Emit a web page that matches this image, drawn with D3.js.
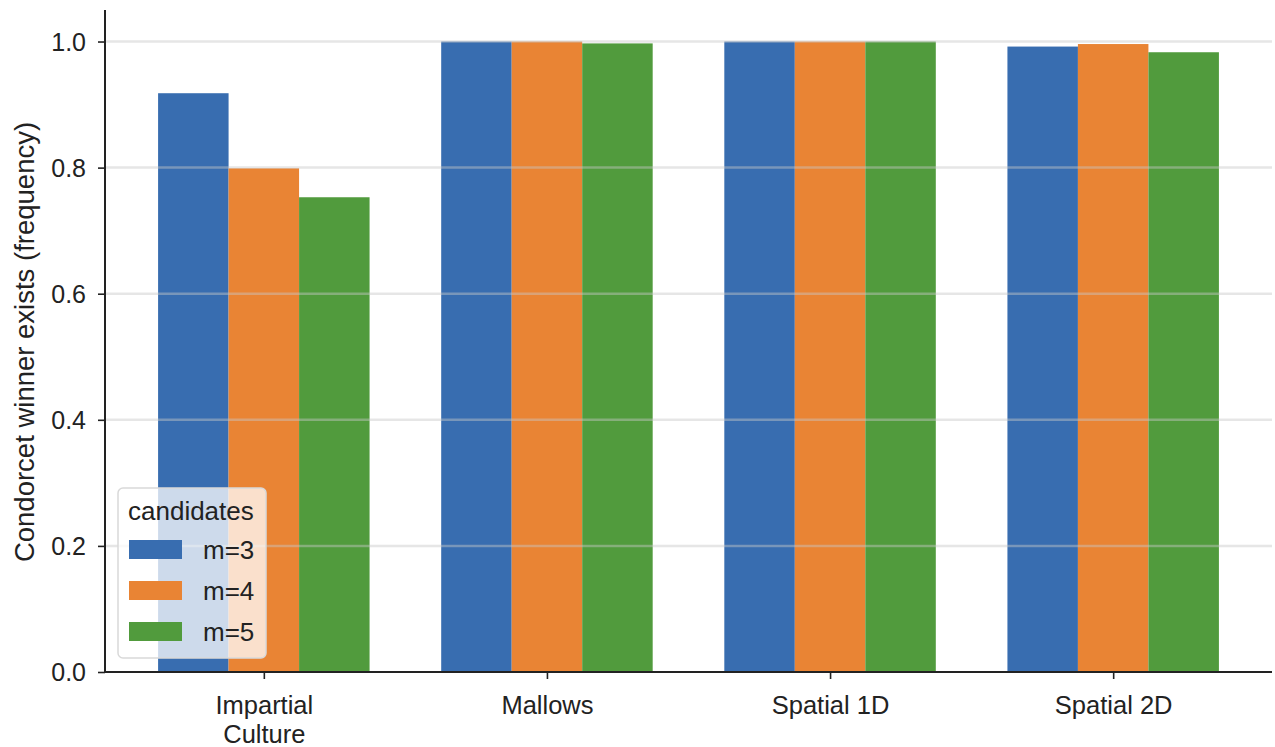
<!DOCTYPE html>
<html>
<head>
<meta charset="utf-8">
<script src="https://cdn.jsdelivr.net/npm/d3@7"></script>
<style>
  html, body { margin: 0; padding: 0; background: #fff; }
  svg { display: block; }
  text { font-family: "Liberation Sans", Arial, sans-serif; fill: #222; }
</style>
</head>
<body>
<svg id="chart" width="1275" height="747"></svg>
<script>
// Preference models on the x axis
const categories = ["Impartial Culture", "Mallows", "Spatial 1D", "Spatial 2D"];
const categoryLines = [["Impartial", "Culture"], ["Mallows"], ["Spatial 1D"], ["Spatial 2D"]];

// Number of candidates (hue)
const series = ["m=3", "m=4", "m=5"];
const seriesColors = ["#386db0", "#e98434", "#519b3d"];

// Frequency with which a Condorcet winner exists, per series
const m3 = [0.918, 1.000, 1.000, 0.992];
const m4 = [0.799, 1.000, 1.000, 0.996];
const m5 = [0.753, 0.997, 1.000, 0.983];
const seriesValues = [m3, m4, m5];

const yTicks = [0.0, 0.2, 0.4, 0.6, 0.8, 1.0];

const svg = d3.select("#chart");
const plotLeft = 105, plotRight = 1272, plotTop = 10, plotBottom = 672;

const y = d3.scaleLinear().domain([0, 1.05]).range([plotBottom, plotTop]);
const x = d3.scalePoint().domain(categories).range([plotLeft, plotRight]).padding(0.561);
const groupWidth = x.step() * 0.747;
const xHue = d3.scaleBand().domain(series).range([-groupWidth / 2, groupWidth / 2]);

// Bars
const rows = [];
categories.forEach((c, i) => {
  series.forEach((s, j) => rows.push({ cat: c, s, v: seriesValues[j][i], color: seriesColors[j] }));
});
svg.append("g").selectAll("rect").data(rows).join("rect")
  .attr("x", d => x(d.cat) + xHue(d.s))
  .attr("width", xHue.bandwidth())
  .attr("y", d => y(d.v))
  .attr("height", d => y(0) - y(d.v))
  .attr("fill", d => d.color);

// Horizontal grid, drawn over the bars
svg.append("g").selectAll("line").data(yTicks.filter(t => t > 0)).join("line")
  .attr("x1", plotLeft).attr("x2", plotRight)
  .attr("y1", d => y(d)).attr("y2", d => y(d))
  .attr("stroke", "#c8c8c8").attr("stroke-opacity", 0.45).attr("stroke-width", 2.5);

// Y axis
const yAxis = svg.append("g").attr("transform", `translate(${plotLeft},0)`)
  .call(d3.axisLeft(y).tickValues(yTicks).tickFormat(d3.format(".1f")).tickSize(7).tickPadding(12));
yAxis.select(".domain").attr("stroke", "#222").attr("stroke-width", 2)
  .attr("d", `M0,${plotTop}V${plotBottom}`);
yAxis.selectAll(".tick line").attr("stroke", "#222").attr("stroke-width", 1.6);
yAxis.selectAll(".tick text").style("font-size", "25px").attr("fill", "#222").attr("dy", "0.35em");

// X axis
const xAxis = svg.append("g").attr("transform", `translate(0,${plotBottom})`)
  .call(d3.axisBottom(x).tickSize(7).tickFormat(""));
xAxis.select(".domain").attr("stroke", "#222").attr("stroke-width", 2)
  .attr("d", `M${plotLeft},0H${plotRight}`);
xAxis.selectAll(".tick line").attr("stroke", "#222").attr("stroke-width", 1.6);
xAxis.selectAll(".tick").each(function (d, i) {
  const t = d3.select(this).append("text")
    .attr("text-anchor", "middle").style("font-size", "25.5px").attr("fill", "#222");
  categoryLines[i].forEach((line, k) => {
    t.append("tspan").attr("x", 0).attr("y", 42 + k * 29).text(line);
  });
});

// Y axis label
svg.append("text")
  .attr("transform", `translate(34,${(plotTop + plotBottom) / 2 + 1}) rotate(-90)`)
  .attr("text-anchor", "middle")
  .style("font-size", "27.5px")
  .text("Condorcet winner exists (frequency)");

// Legend
const lg = svg.append("g").attr("transform", "translate(118,488)");
lg.append("rect").attr("width", 148).attr("height", 170).attr("rx", 5)
  .attr("fill", "#ffffff").attr("fill-opacity", 0.75)
  .attr("stroke", "#d9d9d9").attr("stroke-width", 1.5);
lg.append("text").attr("x", 10).attr("y", 32).style("font-size", "26px").text("candidates");
series.forEach((s, j) => {
  const row = lg.append("g").attr("transform", `translate(11,${52 + j * 41})`);
  row.append("rect").attr("width", 53).attr("height", 19).attr("fill", seriesColors[j]);
  row.append("text").attr("x", 74).attr("y", 19).style("font-size", "26px").text(s);
});
</script>
</body>
</html>
